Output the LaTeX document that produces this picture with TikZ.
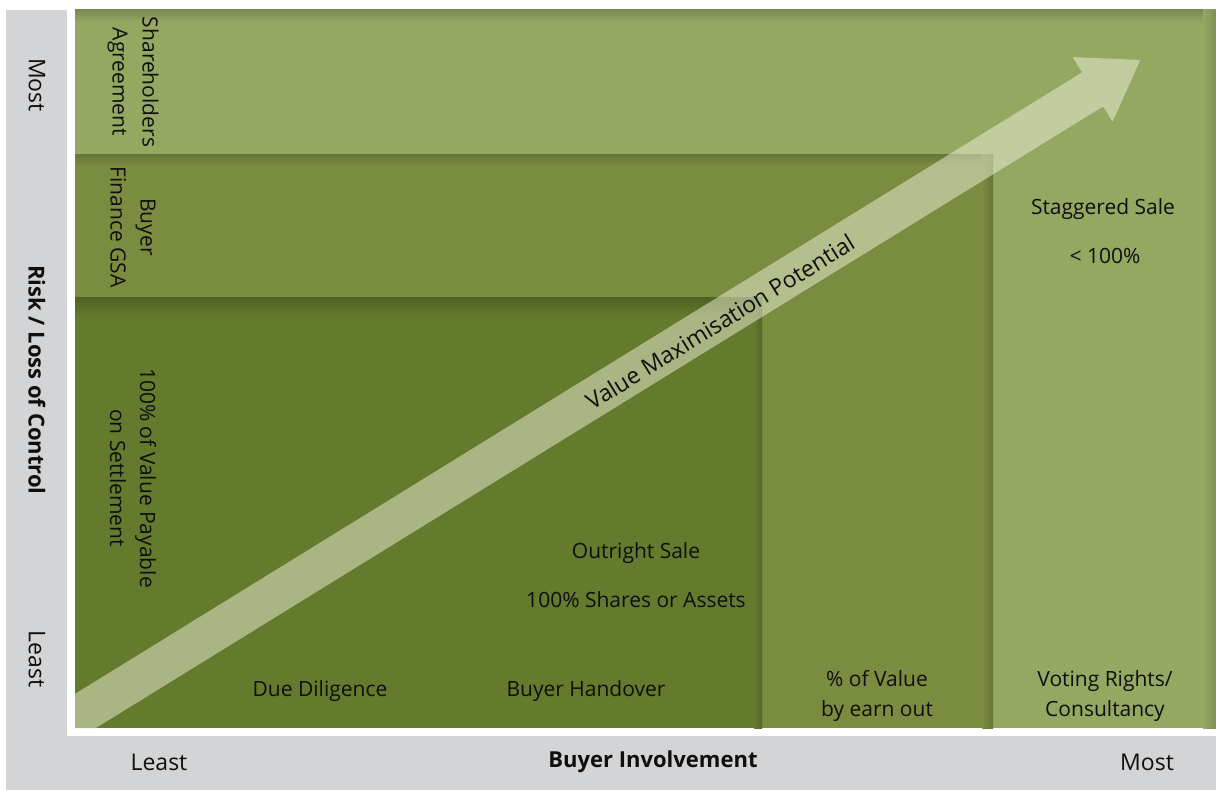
\documentclass[tikz,border=0pt]{standalone}
\usepackage{fontspec}
\setmainfont{Open Sans}
\usepackage{tikz}
\definecolor{panel}{RGB}{211,212,214}
\definecolor{lightgreen}{RGB}{149,168,98}
\definecolor{midgreen}{RGB}{122,140,64}
\definecolor{darkgreen}{RGB}{100,122,45}
\definecolor{arrowfill}{RGB}{238,242,218}
\definecolor{ink}{RGB}{15,15,15}

\begin{document}
\begin{tikzpicture}[x=1pt, y=-1pt,
	lbl/.style={font=\fontsize{21}{30}\selectfont, text=ink, align=center, inner sep=0pt},
	side/.style={lbl, rotate=-90},
	tick/.style={lbl, font=\fontsize{23}{30}\selectfont},
	axis/.style={lbl, font=\fontsize{22}{30}\selectfont\bfseries}]
	\useasboundingbox (0,0) rectangle (1216,791);
	\fill[panel] (6,10) rectangle (1216,790);
	\fill[white] (67,10) rectangle (1216,736);
	% nested bands
	\fill[lightgreen] (75,10) rectangle (1216,728);
	\shade[top color=lightgreen!82!black, bottom color=lightgreen] (75,10) rectangle (1216,22);
	\shade[left color=lightgreen, right color=lightgreen!85!black] (1203,10) rectangle (1216,728);
	\fill[midgreen] (75,155) rectangle (993,728);
	\shade[top color=midgreen!85!black, bottom color=midgreen] (75,155) rectangle (993,166);
	\shade[left color=midgreen, right color=midgreen!85!black] (982,155) rectangle (993,728);
	\fill[darkgreen] (75,298) rectangle (762,728);
	\shade[top color=darkgreen!80!black, bottom color=darkgreen] (75,298) rectangle (762,316);
	\shade[left color=darkgreen, right color=darkgreen!85!black] (754,298) rectangle (762,728);
	% arrow
	\begin{scope}
		\clip (75,10) rectangle (1216,728);
		\fill[arrowfill, opacity=0.5, shift={(40,739)}, rotate=31.68]
			(0,-20) -- (1237,-20) -- (1237,-38) -- (1293,0) -- (1237,38) -- (1237,20) -- (0,20) -- cycle;
	\end{scope}
	% axes
	\node[tick, rotate=-90] (mostL) at (37,85) {Most};
	\node[tick, rotate=-90] (leastL) at (37,659) {Least};
	\node[axis, rotate=-90] (risk) at (37,380) {Risk / Loss of Control};
	\node[tick] (leastB) at (159,762) {Least};
	\node[axis] (buyer) at (653,762) {Buyer Involvement};
	\node[tick] (mostB) at (1147,762) {Most};
	% bands
	\node[side] (share) at (133,82) {Shareholders\\Agreement};
	\node[side] (finance) at (133,227) {Buyer\\Finance GSA};
	\node[side] (payable) at (133,478) {100\% of Value Payable\\on Settlement};
	\node[lbl] (outright) at (636,553) {Outright Sale};
	\node[lbl] (shares) at (636,600) {100\% Shares or Assets};
	\node[lbl] (diligence) at (320,691) {Due Diligence};
	\node[lbl] (handover) at (586,691) {Buyer Handover};
	\node[lbl] (earnout) at (877,696) {\% of Value\\by earn out};
	\node[lbl] (voting) at (1105,696) {Voting Rights/\\Consultancy};
	\node[lbl] (staggered) at (1103,209) {Staggered Sale};
	\node[lbl] (under) at (1105,256) {< 100\%};
	\node[tick, rotate=31.68] (potential) at (720,322) {Value Maximisation Potential};
\end{tikzpicture}
\end{document}
